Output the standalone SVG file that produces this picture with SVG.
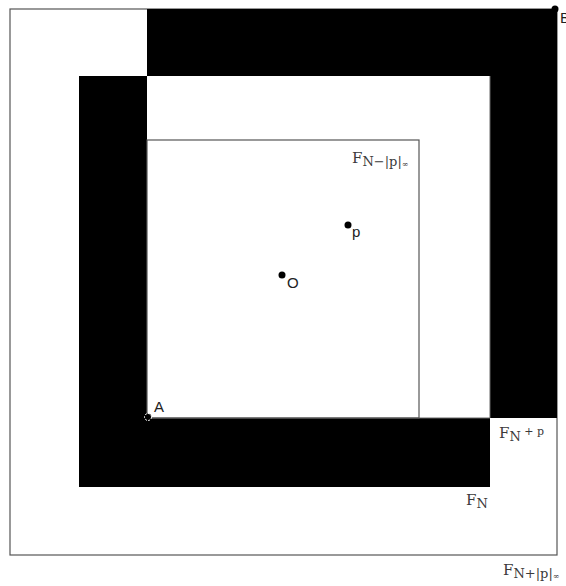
<svg xmlns="http://www.w3.org/2000/svg" width="566" height="586" viewBox="0 0 566 586">
<style>
.frame{fill:none;stroke:#555;stroke-width:1.2}
.lab{font-family:"DejaVu Serif","Liberation Serif",serif;fill:#3a3a3a}
.pt{font-family:"Liberation Sans","DejaVu Sans",sans-serif;fill:#222;font-size:15px}
</style>
<rect width="566" height="586" fill="#fff"/>
<g id="outer">
<rect class="frame" x="10" y="9" width="547" height="546"/>
</g>
<g id="band">
<path fill="#000" fill-rule="evenodd" d="M147 9H557V418H147Z M79 76H490V487H79Z"/>
<path fill="none" stroke="#666" stroke-width="1" d="M147 418H490M490 418V76"/>
</g>
<g id="inner">
<rect class="frame" x="147" y="140" width="272" height="278"/>
</g>
<g id="points">
<circle cx="555" cy="9" r="3.5" fill="#000"/>
<text class="pt" x="560" y="23" font-size="14" fill="#1a2a5a">B</text>
<circle cx="148" cy="417" r="3.5" fill="#000" stroke="#fff" stroke-width="1" stroke-dasharray="2 1.2"/>
<text class="pt" x="154" y="412">A</text>
<circle cx="348" cy="225" r="3.5" fill="#000"/>
<text class="pt" x="352" y="237">p</text>
<circle cx="282" cy="275" r="3.5" fill="#000"/>
<text class="pt" x="287" y="288">O</text>
</g>
<g id="labels">
<text class="lab" x="352" y="163" font-size="15">F<tspan font-size="13" dy="3">N−|p|</tspan><tspan font-size="8" dy="1">∞</tspan></text>
<text class="lab" x="499" y="438" font-size="15">F<tspan font-size="13" dy="3">N</tspan><tspan font-size="11" dy="-6"> + p</tspan></text>
<text class="lab" x="466" y="505" font-size="15">F<tspan font-size="13" dy="3">N</tspan></text>
<text class="lab" x="503" y="575" font-size="15">F<tspan font-size="13" dy="3">N+|p|</tspan><tspan font-size="8" dy="1">∞</tspan></text>
</g>
</svg>
